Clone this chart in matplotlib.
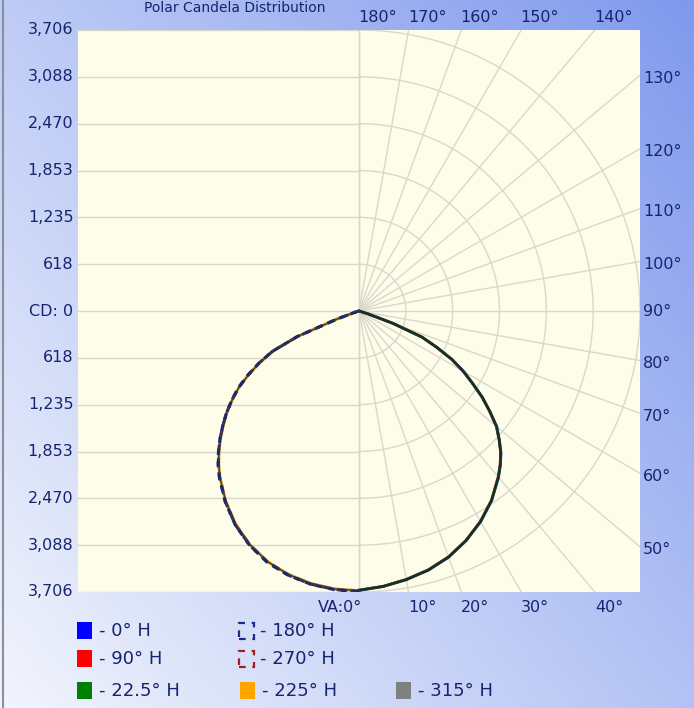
import numpy as np
import matplotlib.pyplot as plt
from matplotlib.patches import Rectangle

# vertical angles (deg from nadir) and candela values
va = [0, 5, 10, 15, 20, 25, 30, 35, 40, 42.5, 45, 47.5, 50, 52.5, 55, 57.5,
      60, 62.5, 65, 67.5, 70, 72.5, 75, 80, 85, 90]
cd_0 = [3685, 3648, 3598, 3538, 3456, 3342, 3209, 3051, 2862, 2760, 2648, 2510,
        2370, 2176, 1987, 1777, 1590, 1380, 1130, 900, 480, 120, 0, 0, 0, 0]
cd_90 = [3680, 3645, 3594, 3533, 3450, 3338, 3203, 3046, 2856, 2754, 2642, 2504,
         2364, 2170, 1982, 1772, 1585, 1376, 1126, 895, 470, 115, 0, 0, 0, 0]
cd_22 = [3683, 3646, 3596, 3536, 3453, 3340, 3206, 3048, 2859, 2757, 2645, 2507,
         2367, 2173, 1985, 1775, 1588, 1378, 1128, 898, 475, 118, 0, 0, 0, 0]
cd_180 = [3700, 3690, 3660, 3608, 3530, 3412, 3262, 3075, 2865, 2750, 2622, 2486,
          2344, 2203, 2048, 1889, 1693, 1487, 1264, 885, 300, 50, 0, 0, 0, 0]
cd_270 = [3695, 3685, 3655, 3602, 3524, 3406, 3256, 3070, 2860, 2744, 2617, 2481,
          2339, 2198, 2043, 1884, 1688, 1482, 1258, 880, 295, 48, 0, 0, 0, 0]
cd_225 = [3690, 3681, 3651, 3598, 3520, 3402, 3252, 3066, 2856, 2740, 2613, 2478,
          2336, 2195, 2040, 1880, 1684, 1478, 1254, 876, 290, 45, 0, 0, 0, 0]
cd_315 = [3688, 3679, 3649, 3596, 3518, 3400, 3250, 3064, 2854, 2738, 2611, 2476,
          2334, 2193, 2038, 1878, 1682, 1476, 1252, 874, 288, 44, 0, 0, 0, 0]

cd_max = 3706
cd_ticks = ["3,706", "3,088", "2,470", "1,853", "1,235", "618", "CD: 0",
            "618", "1,235", "1,853", "2,470", "3,088", "3,706"]
ang_ticks = np.arange(0, 190, 10)

navy = "#15246e"
grid = "#d9d8cc"

W, H = 694, 708
fig = plt.figure(figsize=(W / 100, H / 100), dpi=100)

# gradient background
bg = fig.add_axes([0, 0, 1, 1], zorder=-10)
gx, gy = np.meshgrid(np.linspace(0, 1, 200), np.linspace(1, 0, 200))
t = np.clip((gx * 1.1 + gy * 0.9) / 2, 0, 1)
c0 = np.array([0.95, 0.96, 0.99])
c1 = np.array([0.50, 0.60, 0.93])
img = c0[None, None, :] * (1 - t[..., None]) + c1[None, None, :] * t[..., None]
bg.imshow(img, aspect="auto", extent=[0, 1, 0, 1])
bg.axvline(0.004, color="#8a8f9c", lw=1.5)
bg.axis("off")

def fx(px):
    return px / W

def fy(py):
    return 1 - py / H

L, R, T, B = 78, 640, 30, 592
ax = fig.add_axes([fx(L), fy(B), (R - L) / W, (B - T) / H])
ax.set_xlim(-cd_max, cd_max)
ax.set_ylim(-cd_max, cd_max)
ax.set_facecolor("#fefde9")
for s in ax.spines.values():
    s.set_visible(False)
ax.set_xticks([])
ax.set_yticks([])

step = cd_max / 6
# left side horizontal grid
for k in range(-6, 7):
    ax.plot([-cd_max, 0], [k * step, k * step], color=grid, lw=1, zorder=1)
ax.plot([0, 0], [-cd_max, cd_max], color=grid, lw=1, zorder=1)
# right side polar grid
th = np.radians(np.linspace(0, 180, 200))
for k in range(1, 7):
    r = k * step
    ax.plot(r * np.sin(th), -r * np.cos(th), color=grid, lw=1, zorder=1)
for a in ang_ticks:
    ar = np.radians(a)
    ax.plot([0, 6000 * np.sin(ar)], [0, -6000 * np.cos(ar)], color=grid, lw=1, zorder=1)

# angle labels where radial lines meet the frame
for a in ang_ticks:
    ar = np.radians(a)
    s, c = np.sin(ar), -np.cos(ar)
    if a <= 40:
        x = cd_max * s / -c
        lab = "VA:0°" if a == 0 else f"{a}°"
        ha = "right" if a == 0 else "left"
        ax.text(x + (40 if a == 0 else 0), -cd_max - 210, lab, ha=ha, va="center",
                fontsize=11.5, color=navy, clip_on=False)
    elif a <= 130:
        y = cd_max * c / s
        ax.text(cd_max + 40, y + (0 if a == 90 else -40), f"{a}°", ha="left", va="center",
                fontsize=11.5, color=navy, clip_on=False)
    else:
        x = cd_max * s / c
        ax.text(x - 10, cd_max + 170, f"{a}°", ha="left", va="center",
                fontsize=11.5, color=navy, clip_on=False)

for i, lab in enumerate(cd_ticks):
    ax.text(-cd_max - 60, cd_max - i * step, lab, ha="right", va="center",
            fontsize=11.5, color=navy, clip_on=False)

def right(vals):
    a = np.radians(va)
    v = np.array(vals)
    return v * np.sin(a), -v * np.cos(a)

def left(vals):
    x, y = right(vals)
    return -x, y

series = [
    (left, cd_315, "#808080", "-"),
    (left, cd_225, "#ffa500", "-"),
    (right, cd_90, "#ff0000", "-"),
    (right, cd_0, "#0000ff", "-"),
    (left, cd_270, "#8b1a1a", (0, (3, 2))),
    (right, cd_22, "#0a6a0a", "-"),
    (left, cd_180, "#1a2a8a", (0, (3, 2))),
]
for side, vals, col, ls in series:
    x, y = side(vals)
    ax.plot(x, y, color=col, ls=ls, lw=2, alpha=0.85, zorder=3, solid_joinstyle="round")
# dark overlap of all planes
xr, yr = right(cd_22)
ax.plot(xr, yr, color="#1f2a1a", lw=1.4, zorder=4, solid_joinstyle="round")
xl, yl = left(cd_225)
ax.plot(xl, yl, color="#3a3f22", lw=1.0, zorder=4, solid_joinstyle="round")
xl, yl = left(cd_180)
ax.plot(xl, yl, color="#1a2a6a", lw=2.2, ls=(0, (2, 2)), zorder=5)

# title (cut off at the top in the source image)
fig.text(fx(235), fy(1), "Polar Candela Distribution", ha="center", va="top",
         fontsize=10, color=navy)

# legend
leg_labels = ["- 0° H", "- 90° H", "- 22.5° H", "- 180° H", "- 270° H", "- 225° H", "- 315° H"]
leg_colors = ["#0000ff", "#ff0000", "#008000", "#1a2a8a", "#a02020", "#ffa500", "#808080"]
leg_dashed = [False, False, False, True, True, False, False]
leg_pos = [(77, 631), (77, 659), (77, 691), (238, 631), (238, 659), (240, 691), (396, 691)]
for lab, col, dash, (px, py) in zip(leg_labels, leg_colors, leg_dashed, leg_pos):
    if dash:
        rect = Rectangle((fx(px + 1), fy(py + 8)), 15 / W, 16 / H, transform=fig.transFigure,
                         facecolor="none", edgecolor=col, lw=1.6, ls=(0, (3, 3)))
    else:
        rect = Rectangle((fx(px), fy(py + 8)), 15 / W, 17 / H, transform=fig.transFigure,
                         facecolor=col, edgecolor="none")
    fig.patches.append(rect)
    fig.text(fx(px + 22), fy(py), lab, ha="left", va="center", fontsize=13, color=navy)

fig.savefig("out.png", dpi=100)
